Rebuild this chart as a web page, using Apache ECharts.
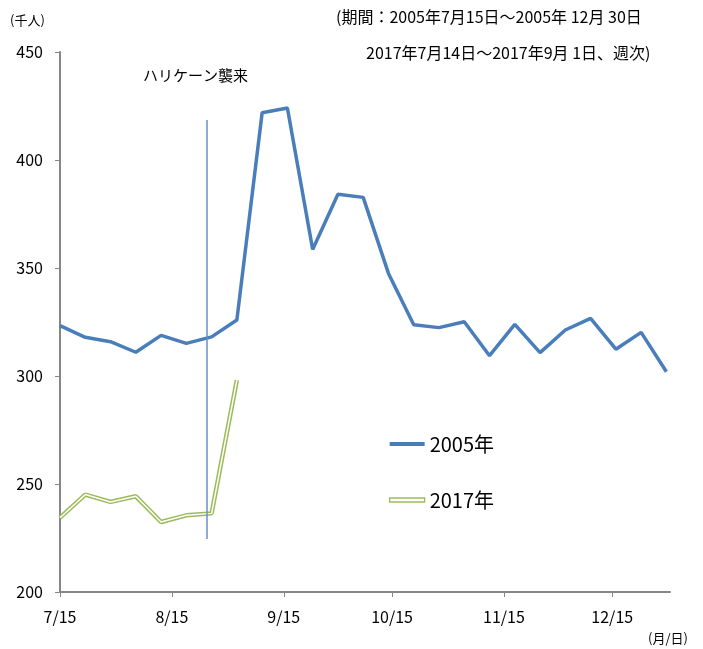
<!DOCTYPE html>
<html>
<head>
<meta charset="utf-8">
<script src="https://cdn.jsdelivr.net/npm/echarts@6/dist/echarts.min.js"></script>
<style>
  html, body { margin: 0; padding: 0; background: #fff; }
  #chart { width: 703px; height: 649px; }
</style>
</head>
<body>
<div id="chart"></div>
<script>
// days since 7/15 for each weekly figure
var weekDays = [0, 7, 14, 21, 28, 35, 42, 49, 56, 63, 70, 77, 84, 91, 98, 105, 112, 119, 126, 133, 140, 147, 154, 161, 168];
var sales2005 = [323.3, 317.9, 315.9, 311.0, 318.8, 315.1, 318.1, 325.9, 421.9, 424.1, 358.6, 384.1, 382.7, 347.5, 323.7, 322.4, 325.1, 309.4, 323.9, 310.8, 321.3, 326.7, 312.4, 320.2, 302.0];
var sales2017 = [234.4, 245.1, 241.7, 244.3, 232.4, 235.5, 236.4, 298.1];
var tickDays = [0, 31, 62, 92, 123, 153];
var tickLabels = ['7/15', '8/15', '9/15', '10/15', '11/15', '12/15'];
var hurricaneDay = 40.6;
var hurricaneRange = [224.5, 418.5];

var font = '"Noto Sans CJK JP", "Noto Sans", sans-serif';
var blue = '#4a7ebb';
var green = '#9bbb59';

function pairs(vals) {
    return vals.map(function (v, i) { return [weekDays[i], v]; });
}

var chart = echarts.init(document.getElementById('chart'));
var option = {
    animation: false,
    textStyle: { fontFamily: font, color: '#000' },
    grid: { left: 60, right: 33, top: 52, bottom: 57 },
    legend: {
        orient: 'vertical',
        left: 389,
        top: 434,
        padding: 0,
        itemWidth: 35,
        itemHeight: 4,
        itemGap: 36,
        textStyle: { fontSize: 20, lineHeight: 20, color: '#000', fontFamily: font },
        data: [
            { name: '2005年', icon: 'rect', itemStyle: { color: blue, borderWidth: 0 } },
            { name: '2017年', icon: 'rect', itemStyle: { color: '#fff', borderColor: green, borderWidth: 1.3 } }
        ]
    },
    graphic: [
        { type: 'text', left: 10, top: 14, style: { text: '(千人)', font: '13px ' + font, fill: '#000' } },
        { type: 'text', left: 336, top: 9, style: { text: '(期間：2005年7月15日～2005年 12月 30日', font: '16px ' + font, fill: '#000' } },
        { type: 'text', left: 366, top: 45, style: { text: '2017年7月14日～2017年9月 1日、週次)', font: '16px ' + font, fill: '#000' } },
        { type: 'text', left: 143, top: 68, style: { text: 'ハリケーン襲来', font: '15px ' + font, fill: '#000' } },
        { type: 'text', left: 648, top: 632, style: { text: '(月/日)', font: '13px ' + font, fill: '#000' } }
    ],
    xAxis: {
        type: 'value',
        min: 0,
        max: 169,
        splitLine: { show: false },
        axisLine: { lineStyle: { color: '#868686', width: 2 } },
        axisTick: { customValues: tickDays, length: 5, lineStyle: { color: '#868686', width: 1 } },
        axisLabel: {
            customValues: tickDays,
            margin: 17,
            fontSize: 16,
            color: '#000',
            formatter: function (v) {
                var i = tickDays.indexOf(v);
                return i >= 0 ? tickLabels[i] : '';
            }
        }
    },
    yAxis: {
        type: 'value',
        min: 200,
        max: 450,
        interval: 50,
        splitLine: { show: false },
        axisLine: { show: true, lineStyle: { color: '#868686', width: 2 } },
        axisTick: { show: true, length: 5, lineStyle: { color: '#868686', width: 1 } },
        axisLabel: { margin: 17, fontSize: 16, color: '#000' }
    },
    series: [
        {
            name: '2005年',
            type: 'line',
            data: pairs(sales2005),
            showSymbol: false,
            color: blue,
            lineStyle: { color: blue, width: 3.5 },
            markLine: {
                silent: true,
                symbol: 'none',
                label: { show: false },
                lineStyle: { color: '#6690c8', width: 1.5, type: 'solid' },
                data: [[
                    { coord: [hurricaneDay, hurricaneRange[1]] },
                    { coord: [hurricaneDay, hurricaneRange[0]] }
                ]]
            }
        },
        {
            name: '2017年',
            type: 'line',
            data: pairs(sales2017),
            showSymbol: false,
            color: green,
            lineStyle: { color: green, width: 4.5 }
        },
        {
            name: '2017年_inner',
            type: 'line',
            data: pairs(sales2017),
            showSymbol: false,
            color: '#fff',
            lineStyle: { color: '#fff', width: 1.5 }
        }
    ]
};
chart.setOption(option);
window.addEventListener('resize', chart.resize);
</script>
</body>
</html>
